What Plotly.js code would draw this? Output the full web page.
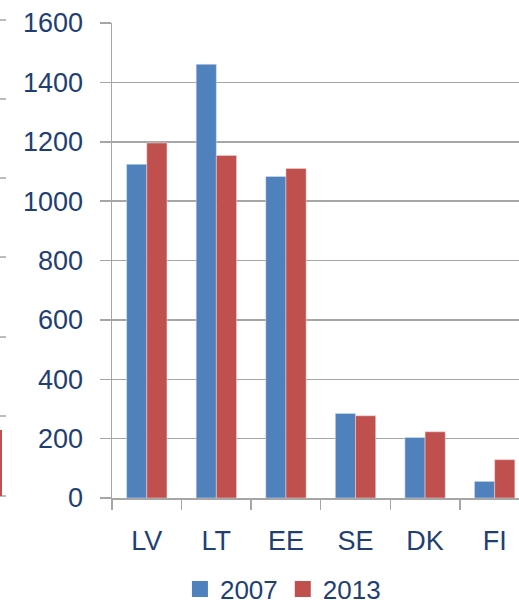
<!DOCTYPE html>
<html>
<head>
<meta charset="utf-8">
<script src="https://cdn.plot.ly/plotly-3.0.1.min.js"></script>
<style>html,body{margin:0;padding:0;background:#fff;}#chart{width:519px;height:605px;}</style>
</head>
<body>
<div id="chart"></div>
<script>
var categories = ["LV", "LT", "EE", "SE", "DK", "FI"];
var values2007 = [1124, 1461, 1083, 285, 204, 56];
var values2013 = [1196, 1154, 1110, 277, 223, 129];
var seriesNames = ["2007", "2013"];
var seriesColors = ["#4F81BD", "#C0504D"];
var yTicks = [0, 200, 400, 600, 800, 1000, 1200, 1400, 1600];

var labelColor = "#1F3F73";
var gridColor = "#A6A6A6";
var fontFam = "Liberation Sans, Arial, sans-serif";

var traces = [
  {type: "bar", name: seriesNames[0], x: categories, y: values2007, showlegend: false,
   marker: {color: seriesColors[0], line: {color: "#DCE6F2", width: 0.5}}},
  {type: "bar", name: seriesNames[1], x: categories, y: values2013, showlegend: false,
   marker: {color: seriesColors[1], line: {color: "#F2DCDB", width: 0.5}}},
  // legend-only entries with larger square keys
  {type: "scatter", mode: "markers", name: seriesNames[0], x: [null], y: [null],
   marker: {symbol: "square", size: 16, color: seriesColors[0]}},
  {type: "scatter", mode: "markers", name: seriesNames[1], x: [null], y: [null],
   marker: {symbol: "square", size: 16, color: seriesColors[1]}}
];

// fragments of a neighbouring chart, cropped at the left edge
var leftTicks = [20, 99, 178, 257, 337, 416, 496];
var shapes = leftTicks.map(function (py) {
  return {type: "line", xref: "paper", yref: "paper",
    x0: -112/407, x1: -106/407, y0: (498 - py)/475, y1: (498 - py)/475,
    line: {color: gridColor, width: 1.5}};
});
shapes.push({type: "line", xref: "paper", yref: "paper",
  x0: -111/407, x1: -111/407, y0: (498 - 430)/475, y1: (498 - 496)/475,
  line: {color: "#C0504D", width: 2}});

var layout = {
  width: 519, height: 605,
  margin: {l: 112, r: 0, t: 23, b: 107, pad: 0, autoexpand: false},
  paper_bgcolor: "#fff", plot_bgcolor: "#fff",
  barmode: "group", bargap: 0.42, bargroupgap: 0,
  font: {family: fontFam, color: labelColor, size: 27},
  showlegend: true,
  legend: {orientation: "h", x: 0.42, xanchor: "center", y: -0.192, yanchor: "middle",
    font: {size: 26, color: labelColor}, itemwidth: 30, traceorder: "normal"},
  xaxis: {
    range: [-0.5, 5.35], showgrid: false, showline: true, linecolor: gridColor, linewidth: 1.5,
    ticks: "outside", tickson: "boundaries", ticklen: 10, tickcolor: gridColor, tickwidth: 1.5,
    tickfont: {size: 27, color: labelColor}, ticklabelstandoff: 18, fixedrange: true,
    automargin: false
  },
  yaxis: {
    range: [0, 1600], tickvals: yTicks, showgrid: true, gridcolor: gridColor, gridwidth: 1.5,
    showline: true, linecolor: gridColor, linewidth: 1.5, zeroline: false,
    ticks: "outside", ticklen: 11, tickcolor: gridColor, tickwidth: 1.5,
    tickfont: {size: 27, color: labelColor}, ticklabelstandoff: 11, fixedrange: true,
    automargin: false
  },
  shapes: shapes
};

Plotly.newPlot("chart", traces, layout, {displayModeBar: false, staticPlot: true});
</script>
</body>
</html>
